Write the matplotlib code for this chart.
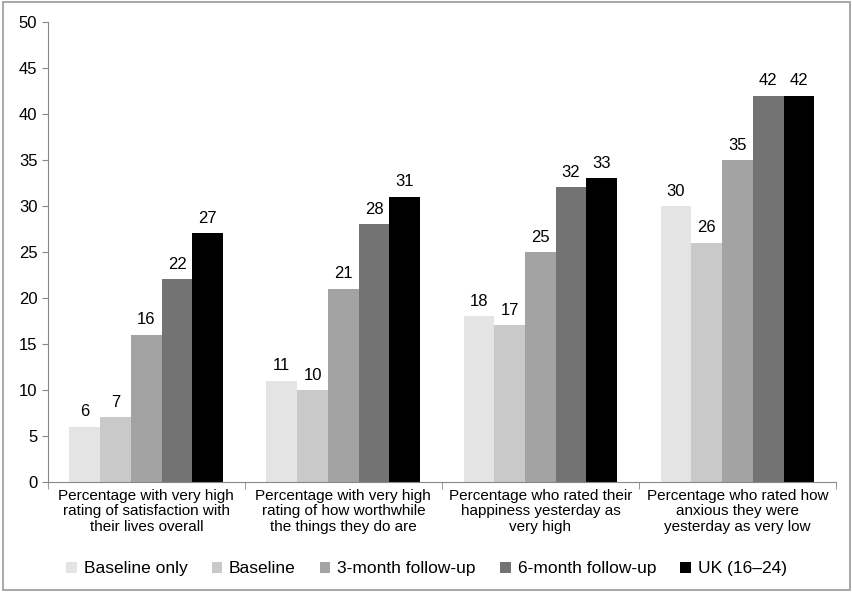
import matplotlib
matplotlib.use("Agg")
import matplotlib.pyplot as plt
import numpy as np

categories = [
    "Percentage with very high\nrating of satisfaction with\ntheir lives overall",
    "Percentage with very high\nrating of how worthwhile\nthe things they do are",
    "Percentage who rated their\nhappiness yesterday as\nvery high",
    "Percentage who rated how\nanxious they were\nyesterday as very low",
]
series_names = ["Baseline only", "Baseline", "3-month follow-up", "6-month follow-up", "UK (16\u201324)"]
baseline_only = [6, 11, 18, 30]
baseline = [7, 10, 17, 26]
followup_3m = [16, 21, 25, 35]
followup_6m = [22, 28, 32, 42]
uk_16_24 = [27, 31, 33, 42]
colors = ["#e4e4e4", "#c9c9c9", "#a3a3a3", "#737373", "#000000"]

plt.rcParams["font.family"] = ["Liberation Sans", "DejaVu Sans"]

fig = plt.figure(figsize=(8.53, 5.92), dpi=100)
ax = fig.add_axes([0.056, 0.186, 0.924, 0.777])

x = np.arange(len(categories))
width = 0.156
all_series = [baseline_only, baseline, followup_3m, followup_6m, uk_16_24]
for i, (name, vals, col) in enumerate(zip(series_names, all_series, colors)):
    pos = x + (i - 2) * width
    bars = ax.bar(pos, vals, width, color=col, label=name)
    for b, v in zip(bars, vals):
        ax.text(b.get_x() + b.get_width() / 2, v + 0.8, str(v),
                ha="center", va="bottom", fontsize=12)

ax.set_xlim(-0.5, len(categories) - 0.5)
ax.set_ylim(0, 50)
ax.set_yticks(range(0, 51, 5))
ax.tick_params(axis="y", labelsize=12, length=4, color="#888888")
ax.set_xticks(x)
ax.set_xticklabels(categories, fontsize=11, linespacing=1.15)
ax.tick_params(axis="x", length=0, pad=5)
ax.set_xticks(np.arange(-0.5, len(categories)), minor=True)
ax.tick_params(axis="x", which="minor", length=5, color="#888888")
for side in ["top", "right"]:
    ax.spines[side].set_visible(False)
for side in ["left", "bottom"]:
    ax.spines[side].set_color("#888888")

fig.legend(loc="lower center", bbox_to_anchor=(0.5, 0.0), ncol=5, frameon=False,
           fontsize=12.5, handlelength=0.6, handleheight=0.6, handletextpad=0.4,
           columnspacing=1.4)

border = plt.Rectangle((0.003, 0.003), 0.994, 0.994, transform=fig.transFigure,
                       fill=False, edgecolor="#999999", linewidth=1.2)
fig.patches.append(border)

fig.savefig("out.png", dpi=100)
